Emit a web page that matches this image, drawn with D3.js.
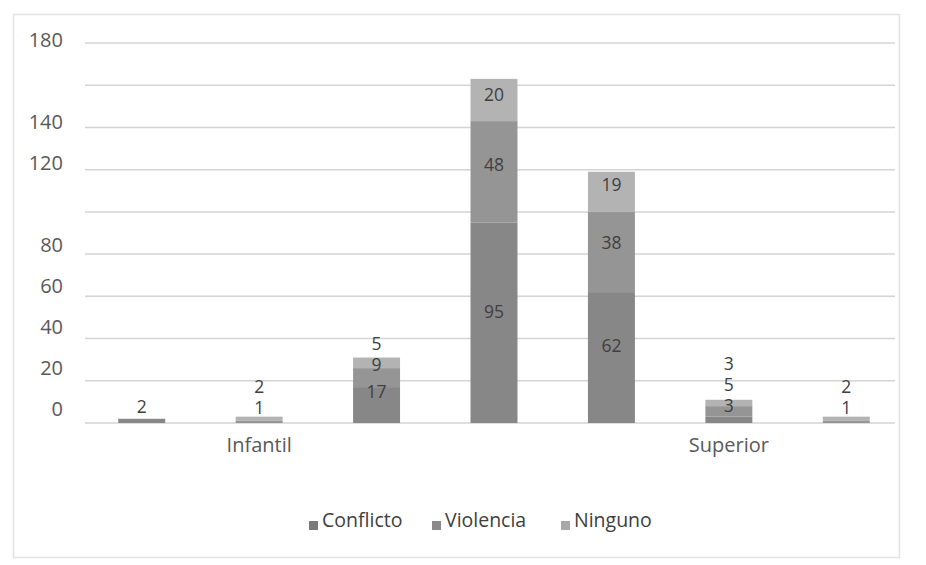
<!DOCTYPE html>
<html lang="es">
<head>
<meta charset="utf-8">
<style>
body { margin:0; background:white; }
text { font-family: "Open Sans", "Noto Sans", sans-serif; }
</style>
<script src="https://cdn.jsdelivr.net/npm/d3@7"></script>
</head>
<body>
<div id="chart"></div>
<script>

// data
var categories = ["", "Infantil", "", "", "", "Superior", ""]
var seriesNames = ["Conflicto", "Violencia", "Ninguno"]
var conflicto = [2, 0, 17, 95, 62, 3, 0]
var violencia = [0, 1, 9, 48, 38, 5, 1]
var ninguno = [0, 2, 5, 20, 19, 3, 2]
var tickValues = [0, 20, 40, 60, 80, 120, 140, 180]
var gridValues = [0, 20, 40, 60, 80, 100, 120, 140, 160, 180]

var width = 926
var height = 565

var barColors = ["#878787", "#959595", "#b3b3b3"]
var keyColors = ["#7a7a7a", "#8a8a8a", "#a8a8a8"]

var svg = d3.select('#chart').append("svg")
    .attr("width", width)
    .attr("height", height)

// outer frame
svg.append("rect")
    .attr("x", 13.5).attr("y", 14.5)
    .attr("width", 886).attr("height", 543)
    .attr("fill", "none")
    .attr("stroke", "#e2e2e2")
    .attr("stroke-width", 1.5)

var x = d3.scaleBand()
    .domain(d3.range(categories.length))
    .range([83, 905])
    .paddingInner(0.6)
    .paddingOuter(0.3)

var y = d3.scaleLinear()
    .domain([0, 180])
    .range([423, 43])

// the tick and data labels sit on a slightly squeezed scale in the original
var yLabel = d3.scaleLinear()
    .domain([0, 180])
    .range([409, 40])

// gridlines
svg.append("g")
  .selectAll("line")
  .data(gridValues)
  .enter().append("line")
    .attr("x1", 85).attr("x2", 895)
    .attr("y1", function(d) { return y(d) })
    .attr("y2", function(d) { return y(d) })
    .attr("stroke", "#d4d4d4")
    .attr("stroke-width", 1.5)

// y tick labels
var yAxis = svg.append("g")
    .attr("transform", "translate(63,0)")
    .call(d3.axisLeft(yLabel).tickValues(tickValues).tickSize(0).tickPadding(0))
yAxis.select(".domain").remove()
yAxis.selectAll("text")
    .attr("fill", "#595959")
    .style("font-size", "20px")

// stack
var rows = categories.map(function(c, i) {
  return { i: i, Conflicto: conflicto[i], Violencia: violencia[i], Ninguno: ninguno[i] }
})
var stacked = d3.stack().keys(seriesNames)(rows)

var layers = svg.append("g").selectAll("g")
  .data(stacked)
  .enter().append("g")
    .attr("fill", function(d, k) { return barColors[k] })

layers.selectAll("rect")
  .data(function(d) { return d })
  .enter().append("rect")
    .filter(function(d) { return d[1] > d[0] })
    .attr("x", function(d) { return x(d.data.i) })
    .attr("width", x.bandwidth())
    .attr("y", function(d) { return y(d[1]) })
    .attr("height", function(d) { return y(d[0]) - y(d[1]) })

// data labels, pushed up when they would overlap
var labels = []
rows.forEach(function(r, i) {
  var last = null
  stacked.forEach(function(layer) {
    var d = layer[i]
    var v = d[1] - d[0]
    if (v <= 0) return
    var ly = yLabel((d[0] + d[1]) / 2)
    if (last !== null && ly > last - 21) ly = last - 21
    last = ly
    labels.push({ i: i, v: v, y: ly })
  })
})

svg.append("g").selectAll("text")
  .data(labels)
  .enter().append("text")
    .attr("x", function(d) { return x(d.i) + x.bandwidth() / 2 })
    .attr("y", function(d) { return d.y })
    .attr("dy", "0.35em")
    .attr("text-anchor", "middle")
    .attr("fill", "#404040")
    .style("font-size", "17.5px")
    .text(function(d) { return d.v })

// category labels
var xAxis = svg.append("g")
    .attr("transform", "translate(0,423)")
    .call(d3.axisBottom(x).tickSize(0).tickPadding(15)
      .tickFormat(function(i) { return categories[i] }))
xAxis.select(".domain").remove()
xAxis.selectAll("text")
    .attr("fill", "#595959")
    .style("font-size", "20px")

// legend
var keyX = [309, 432, 561]
var key = svg.append("g").selectAll("g")
  .data(seriesNames)
  .enter().append("g")
    .attr("transform", function(d, k) { return "translate(" + keyX[k] + ",0)" })

key.append("rect")
    .attr("x", 0).attr("y", 521)
    .attr("width", 9).attr("height", 9)
    .attr("fill", function(d, k) { return keyColors[k] })

key.append("text")
    .attr("x", 13).attr("y", 527)
    .attr("fill", "#404040")
    .style("font-size", "19.5px")
    .text(function(d) { return d })

</script>
</body>
</html>
